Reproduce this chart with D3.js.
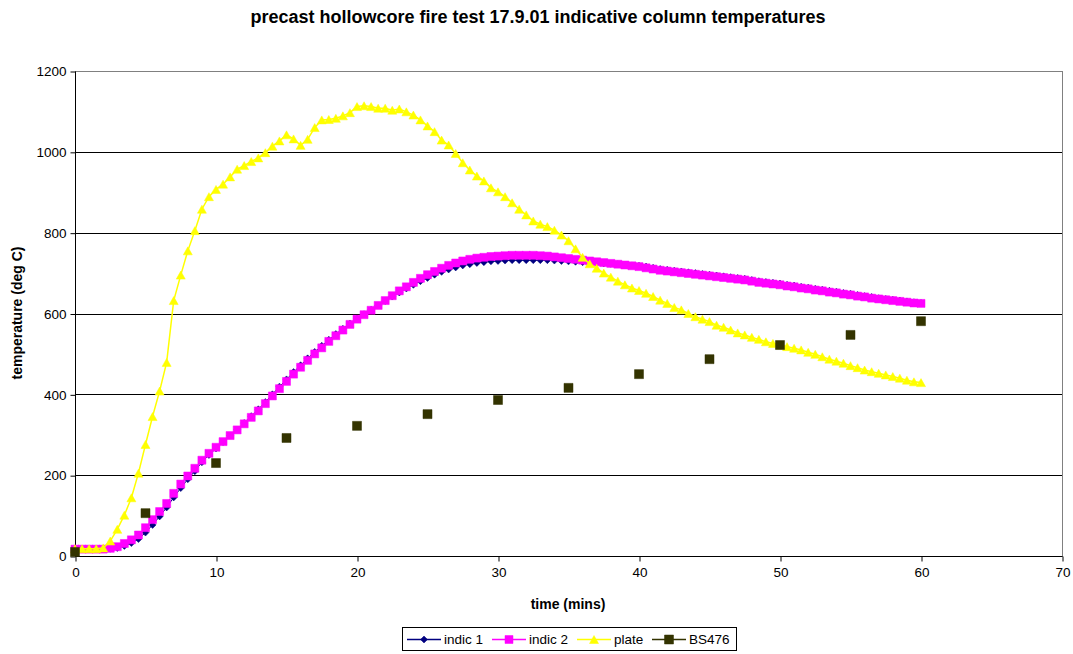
<!DOCTYPE html>
<html><head><meta charset="utf-8">
<script src="https://cdn.jsdelivr.net/npm/d3@7"></script>
<style>
body{margin:0;background:#fff}
text{font-family:Arial,"Liberation Sans",sans-serif;fill:#000}
</style>
</head><body>
<svg id="chart" width="1073" height="654"></svg>
<script>
const minutes = [0,0.5,1,1.5,2,2.5,3,3.5,4,4.5,5,5.5,6,6.5,7,7.5,8,8.5,9,9.5,10,10.5,11,11.5,12,12.5,13,13.5,14,14.5,15,15.5,16,16.5,17,17.5,18,18.5,19,19.5,20,20.5,21,21.5,22,22.5,23,23.5,24,24.5,25,25.5,26,26.5,27,27.5,28,28.5,29,29.5,30,30.5,31,31.5,32,32.5,33,33.5,34,34.5,35,35.5,36,36.5,37,37.5,38,38.5,39,39.5,40,40.5,41,41.5,42,42.5,43,43.5,44,44.5,45,45.5,46,46.5,47,47.5,48,48.5,49,49.5,50,50.5,51,51.5,52,52.5,53,53.5,54,54.5,55,55.5,56,56.5,57,57.5,58,58.5,59,59.5,60];

const indic1 = [17,17,17,17,17,18,20,25,32,42,58,77,98,120,145,168,190,210,232,250,266,282,298,313,329,346,363,381,400,419,437,455,472,489,505,520,535,549,562,575,587,598,609,620,631,642,652,662,671,680,688,696,703,709,714,719,722,725,727,729,730,731,732,732,732,732,732,732,731,730,729,728,727,726,725,724,723,722,721,719,718,716,713,710,708,706,704,702,700,698,696,694,692,690,688,686,683,680,678,676,674,671,669,666,664,661,659,656,654,651,649,646,643,641,638,636,634,632,630,628,626];

const indic2 = [17,17,17,17,17,19,23,31,40,52,70,90,110,130,155,178,198,217,237,254,269,283,298,312,327,343,359,377,396,414,432,450,467,484,500,515,531,545,559,573,586,597,608,620,632,644,656,666,677,687,696,704,712,719,725,730,734,737,739,741,742,743,744,744,744,744,743,742,740,738,736,734,732,730,728,726,724,722,720,718,716,713,710,707,705,703,701,699,697,695,693,691,689,687,685,683,680,677,675,673,671,668,666,663,661,658,656,653,651,648,646,643,641,638,636,634,632,630,628,626,625];

const plate = [18,18,18,18,20,37,66,101,144,205,276,345,408,479,632,695,755,805,858,889,907,920,938,957,966,976,985,998,1014,1027,1042,1032,1016,1031,1060,1079,1080,1083,1089,1097,1112,1114,1112,1108,1108,1103,1106,1099,1091,1079,1064,1050,1029,1017,996,973,955,940,928,911,901,889,874,858,844,829,821,815,806,794,780,760,739,723,712,700,690,680,671,663,657,650,642,633,625,615,609,600,592,586,580,571,566,559,552,547,541,536,530,526,522,518,514,510,504,499,493,487,482,477,471,466,460,456,452,448,444,440,435,431,429];

const bsMinutes = [0,5,10,15,20,25,30,35,40,45,50,55,60];
const bs476 = [10,106,230,292,322,351,386,416,450,487,522,547,581];

const xTicks = [0,10,20,30,40,50,60,70];
const yTicks = [0,200,400,600,800,1000,1200];
const seriesNames = ["indic 1","indic 2","plate","BS476"];
const seriesColors = ["#000080","#FF00FF","#FFFF00","#333300"];

const svg = d3.select("#chart");
const x = d3.scaleLinear().domain([0,70]).range([75,1062]);
const y = d3.scaleLinear().domain([0,1200]).range([556,71]);

// plot area border
svg.append("rect").attr("x",75).attr("y",71).attr("width",987).attr("height",485)
  .attr("fill","#fff").attr("stroke","#808080").attr("stroke-width",1).attr("shape-rendering","crispEdges");

// gridlines
svg.append("g").selectAll("line").data(yTicks.filter(d=>d>0 && d<1200)).join("line")
  .attr("x1",75).attr("x2",1062).attr("y1",d=>Math.round(y(d))+0.5).attr("y2",d=>Math.round(y(d))+0.5)
  .attr("stroke","#000").attr("stroke-width",1);

// axes
const yAxis = d3.axisLeft(y).tickValues(yTicks).tickSize(5).tickPadding(4).tickFormat(d3.format("d"));
const gy = svg.append("g").attr("transform","translate(75.5,0.5)").call(yAxis);
const xAxis = d3.axisBottom(x).tickValues(xTicks).tickSize(5).tickPadding(6).tickFormat(d3.format("d"));
const gx = svg.append("g").attr("transform","translate(0.5,556.5)").call(xAxis);
[gx,gy].forEach(g=>{
  g.selectAll("path.domain").attr("stroke","#000");
  g.selectAll(".tick line").attr("stroke","#000");
  g.selectAll("text").style("font-size","13.5px").style("font-family","Arial, 'Liberation Sans', sans-serif").attr("fill","#000");
});
gx.selectAll("path.domain").attr("d","M75,0H1062");
gy.selectAll("path.domain").attr("d","M0,71V556");

// marker shapes
function markerPath(kind, s){
  if(kind===0){ // diamond
    return `M0,${-s}L${s},0L0,${s}L${-s},0Z`;
  } else if(kind===1 || kind===3){ // square
    return `M${-s},${-s}H${s}V${s}H${-s}Z`;
  } else { // triangle
    return `M0,${-s}L${s+0.5},${s}L${-s-0.5},${s}Z`;
  }
}

const line = d3.line().x(d=>x(d[0])).y(d=>y(d[1]));
const seriesData = [
  minutes.map((m,i)=>[m,indic1[i]]),
  minutes.map((m,i)=>[m,indic2[i]]),
  minutes.map((m,i)=>[m,plate[i]]),
  bsMinutes.map((m,i)=>[m,bs476[i]])
];
const markerSize = [3.5,4,4,4.5];

seriesData.forEach((data,k)=>{
  const g = svg.append("g");
  if(k<3){
    g.append("path").datum(data).attr("d",line).attr("fill","none")
      .attr("stroke",seriesColors[k]).attr("stroke-width",k===2?1.5:1);
  }
  g.selectAll("path.m").data(data).join("path").attr("class","m")
    .attr("transform",d=>`translate(${x(d[0])},${y(d[1])})`)
    .attr("d",markerPath(k,markerSize[k]))
    .attr("fill",seriesColors[k]).attr("stroke",seriesColors[k]).attr("stroke-width",0.5);
});

// title
svg.append("text").attr("x",538).attr("y",23).attr("text-anchor","middle")
  .style("font-size","18px").style("font-weight","bold")
  .text("precast hollowcore fire test 17.9.01 indicative column temperatures");

// axis titles
svg.append("text").attr("x",568).attr("y",609).attr("text-anchor","middle")
  .style("font-size","14px").style("font-weight","bold").text("time (mins)");
svg.append("text").attr("transform","translate(22,313) rotate(-90)").attr("text-anchor","middle")
  .style("font-size","14px").style("font-weight","bold").text("temperature (deg C)");

// legend
const lg = svg.append("g");
lg.append("rect").attr("x",402.5).attr("y",627.5).attr("width",334).attr("height",23)
  .attr("fill","#fff").attr("stroke","#000").attr("stroke-width",1);
const legX = [407,492,577,652];
seriesNames.forEach((name,k)=>{
  const lx = legX[k], ly = 639;
  lg.append("line").attr("x1",lx).attr("x2",lx+34).attr("y1",ly+0.5).attr("y2",ly+0.5)
    .attr("stroke",seriesColors[k]).attr("stroke-width",1.5);
  lg.append("path").attr("transform",`translate(${lx+17},${ly+0.5})`)
    .attr("d",markerPath(k,markerSize[k])).attr("fill",seriesColors[k]).attr("stroke",seriesColors[k]).attr("stroke-width",0.5);
  lg.append("text").attr("x",lx+37).attr("y",ly+5).style("font-size","13.5px").text(name);
});
</script>
</body></html>
